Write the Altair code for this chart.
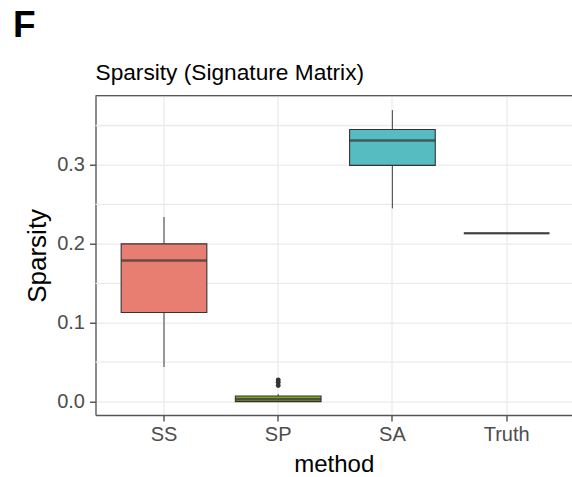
import altair as alt
import pandas as pd

# ---- data ----
methods = ["SS", "SP", "SA", "Truth"]
whisker_low = [0.044, 0.000, 0.245, 0.2135]
q1 = [0.113, 0.000, 0.2995, 0.2135]
median = [0.179, 0.003, 0.331, 0.2135]
q3 = [0.200, 0.0072, 0.345, 0.2135]
whisker_high = [0.234, 0.0097, 0.3695, 0.2135]
fills = ["#E87E71", "#7FA22A", "#56BCC2", "#C77CFF"]

outlier_method = ["SP", "SP", "SP"]
outlier_value = [0.0275, 0.0245, 0.0205]

minor_grid = [0.05, 0.15, 0.25, 0.35]
major_ticks = [0.0, 0.1, 0.2, 0.3]

W, H = 476.5, 319.3
FONT = "Liberation Sans"

box_df = pd.DataFrame({
    "method": methods, "lo": whisker_low, "q1": q1, "med": median,
    "q3": q3, "hi": whisker_high,
})
out_df = pd.DataFrame({"method": outlier_method, "value": outlier_value})
minor_df = pd.DataFrame({"v": minor_grid})

yscale = alt.Scale(domain=[-0.0169, 0.3878], nice=False, zero=False)
xscale = alt.Scale(domain=methods, paddingInner=0, paddingOuter=0.086, align=0.58)

x_enc = alt.X("method:N", scale=xscale, sort=methods,
              axis=alt.Axis(title="method", labelAngle=0, grid=True,
                            gridColor="#EBEBEB", gridWidth=1.3,
                            labelFontSize=20, labelColor="#4D4D4D", labelFont=FONT,
                            labelPadding=3, tickSize=6, tickColor="#333333",
                            tickWidth=1.2, domain=True, domainColor="#555555",
                            domainWidth=1.3, titleFontSize=24, titleFont=FONT,
                            titleFontWeight="normal", titleColor="#000000",
                            titlePadding=8))

y_axis = alt.Axis(title="Sparsity", values=major_ticks, format=".1f", grid=True,
                  gridColor="#EBEBEB", gridWidth=1.3,
                  labelFontSize=20, labelColor="#4D4D4D", labelFont=FONT,
                  labelPadding=5, tickSize=6, tickColor="#333333", tickWidth=1.2,
                  domain=True, domainColor="#555555", domainWidth=1.3,
                  titleFontSize=26, titleFont=FONT, titleFontWeight="normal",
                  titleColor="#000000", titlePadding=6)

base = alt.Chart(box_df)

minor = alt.Chart(minor_df).mark_rule(color="#EBEBEB", strokeWidth=1.3).encode(
    y=alt.Y("v:Q", scale=yscale, axis=y_axis)
)

whisk_lo = base.mark_rule(color="#5A5A5A", strokeWidth=1.2).encode(
    x=x_enc, y=alt.Y("lo:Q", scale=yscale, axis=y_axis), y2="q1:Q"
)
whisk_hi = base.mark_rule(color="#5A5A5A", strokeWidth=1.2).encode(
    x=x_enc, y=alt.Y("q3:Q", scale=yscale, axis=y_axis), y2="hi:Q"
)
box = base.mark_bar(width=alt.RelativeBandSize(0.75), stroke="#333333",
                    strokeWidth=1.1).encode(
    x=x_enc,
    y=alt.Y("q1:Q", scale=yscale, axis=y_axis), y2="q3:Q",
    fill=alt.Fill("method:N", scale=alt.Scale(domain=methods, range=fills), legend=None),
)
med = base.mark_tick(color="#333333", thickness=2.4, size=85.6).encode(
    x=x_enc, y=alt.Y("med:Q", scale=yscale, axis=y_axis)
)
outl = alt.Chart(out_df).mark_circle(color="#333333", size=24, opacity=1).encode(
    x=x_enc, y=alt.Y("value:Q", scale=yscale, axis=y_axis)
)

label_df = pd.DataFrame({"t": ["x"]})
top_border = alt.Chart(label_df).mark_rule(color="#555555", strokeWidth=1.3).encode(
    x=alt.value(0), x2=alt.value(W + 5), y=alt.value(0)
)
title_txt = alt.Chart(label_df).mark_text(
    text="Sparsity (Signature Matrix)", align="left", baseline="alphabetic",
    fontSize=22.7, font=FONT, color="#000000"
).encode(x=alt.value(0), y=alt.value(-15.7))
panel_letter = alt.Chart(label_df).mark_text(
    text="F", align="left", baseline="alphabetic", fontSize=37, fontWeight="bold",
    font=FONT, color="#000000"
).encode(x=alt.value(-82.5), y=alt.value(-58.4))

chart = alt.layer(minor, whisk_lo, whisk_hi, box, med, outl, top_border,
                  title_txt, panel_letter).properties(
    width=W, height=H,
    autosize=alt.AutoSizeParams(type="none"),
    padding={"left": 95.5, "top": 95.7, "right": 0, "bottom": 62},
).configure_view(stroke=None).configure(background="white")

chart.save("out.html", embed_options={"renderer": "svg", "actions": False})
